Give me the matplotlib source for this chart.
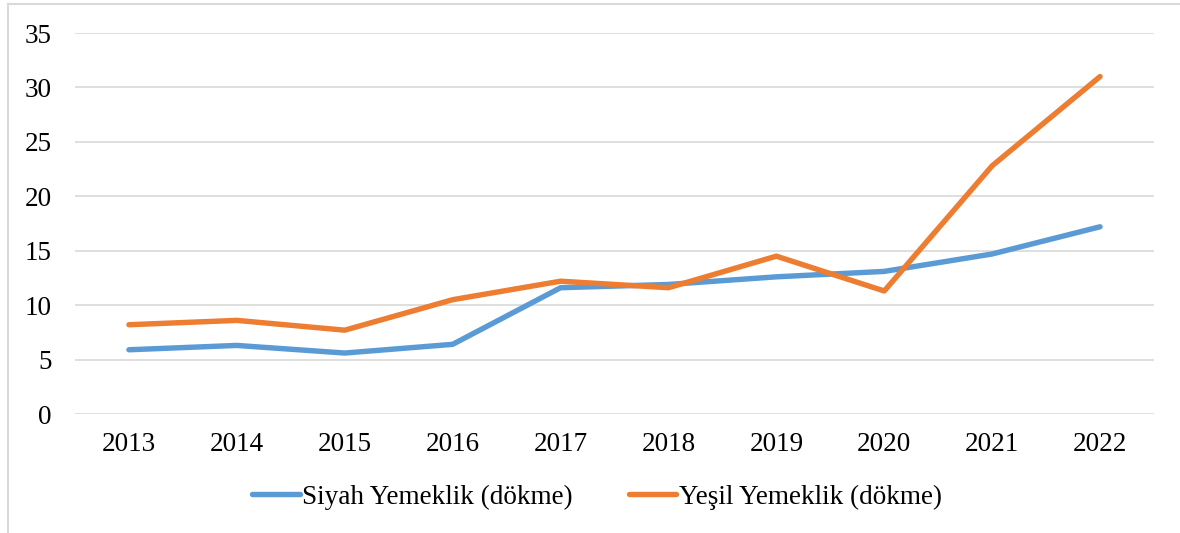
import matplotlib.pyplot as plt
from matplotlib.lines import Line2D

years = ["2013", "2014", "2015", "2016", "2017", "2018", "2019", "2020", "2021", "2022"]
siyah = [5.9, 6.3, 5.6, 6.4, 11.6, 11.9, 12.6, 13.1, 14.7, 17.2]
yesil = [8.2, 8.6, 7.7, 10.5, 12.2, 11.6, 14.5, 11.3, 22.8, 31.0]
yticks = [0, 5, 10, 15, 20, 25, 30, 35]

plt.rcParams["font.family"] = ["Liberation Serif", "DejaVu Serif"]

W, H = 1180, 533
fig = plt.figure(figsize=(W / 100, H / 100), dpi=100)
ax = fig.add_axes([75 / W, 1 - 414 / H, (1154 - 75) / W, (414 - 33) / H])

x = range(len(years))
ax.plot(x, siyah, color="#5B9BD5", lw=3.9, solid_capstyle="round",
        solid_joinstyle="round", label="Siyah Yemeklik (dökme)")
ax.plot(x, yesil, color="#ED7D31", lw=3.9, solid_capstyle="round",
        solid_joinstyle="round", label="Yeşil Yemeklik (dökme)")

ax.set_xlim(-0.5, len(years) - 0.5)
ax.set_ylim(0, 35)
ax.set_xticks(list(x))
ax.set_xticklabels(years)
ax.set_yticks(yticks)
ax.tick_params(length=0, labelsize=19.5)
ax.tick_params(axis="y", pad=17)
ax.tick_params(axis="x", pad=13)
ax.grid(axis="y", color="#D9D9D9", lw=1.2)
ax.set_axisbelow(True)
for s in ax.spines.values():
    s.set_visible(False)

ax.legend(loc="center", bbox_to_anchor=(597 / W, 1 - 497 / H),
          bbox_transform=fig.transFigure, ncol=2, frameon=False,
          fontsize=19.5, handlelength=1.75, handletextpad=0.1,
          columnspacing=2.05)

# outer chart border (only left and top visible in the crop)
fig.add_artist(Line2D([8 / W, 8 / W], [0, 1 - 4 / H], color="#D9D9D9", lw=1.5,
                      transform=fig.transFigure))
fig.add_artist(Line2D([8 / W, 1], [1 - 4 / H, 1 - 4 / H], color="#D9D9D9", lw=1.5,
                      transform=fig.transFigure))

fig.savefig("out.png", dpi=100, facecolor="white")
